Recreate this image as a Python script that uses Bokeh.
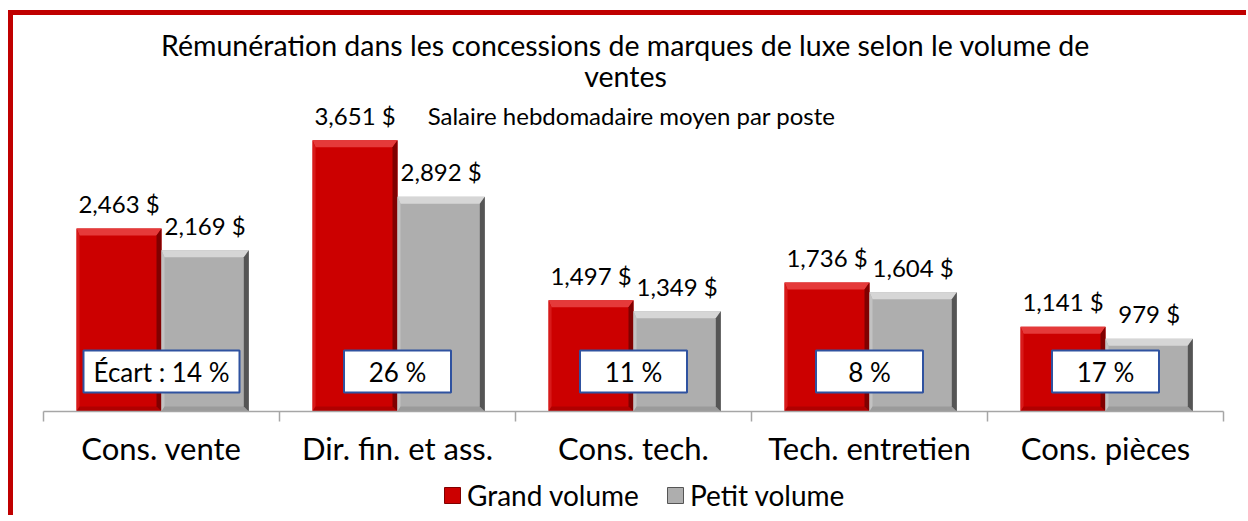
import numpy as np
from bokeh.plotting import figure
from bokeh.layouts import column
from bokeh.models import Range1d, FixedTicker, Legend, LegendItem, ColumnDataSource, Label
from bokeh.embed import file_html
from bokeh.resources import INLINE
from bokeh.core.properties import value

# ---------------- data ----------------
categories = ["Cons. vente", "Dir. fin. et ass.", "Cons. tech.", "Tech. entretien", "Cons. pièces"]
grand_volume = [2463, 3651, 1497, 1736, 1141]
petit_volume = [2169, 2892, 1349, 1604, 979]
ecart_labels = ["Écart : 14 %", "26 %", "11 %", "8 %", "17 %"]
series_names = ["Grand volume", "Petit volume"]
title_lines = ["Rémunération dans les concessions de marques de luxe selon le volume de", "ventes"]
subtitle = "Salaire hebdomadaire moyen par poste"

# ---------------- layout / style ----------------
FONT = "Lato"
RED = ("#CC0000", "#E53A3A", "#800000", "#D81A1A", "#B00000")
GRAY = ("#AEAEAE", "#D6D6D6", "#555555", "#C2C2C2", "#9A9A9A")
W, H = 1233, 460
MB_L, MB_R, MB_T, MB_B = 30, 23, 0, 64
FRAME_H = H - MB_T - MB_B
Y_MAX = 5330.0
PX = FRAME_H / Y_MAX            # pixels per data unit (vertical)
XPX = (W - MB_L - MB_R) / 5.0   # pixels per category

def dy(px):
    return px / PX

def dx(px):
    return px / XPX

p = figure(width=W, height=H, output_backend="svg", toolbar_location=None,
           x_range=Range1d(0, len(categories)), y_range=Range1d(0, Y_MAX),
           y_axis_location=None, min_border_left=MB_L, min_border_right=MB_R,
           min_border_top=MB_T, min_border_bottom=MB_B)
p.outline_line_color = None
p.xgrid.visible = False
p.ygrid.visible = False
p.background_fill_color = "white"
p.border_fill_color = "white"

n = len(categories)
centers = np.arange(n) + 0.5
RED_W, GRAY_W = 0.36, 0.37

def draw_bars(left, right, top, colors):
    base, light_top, dark_right, light_left, bottom_c = colors
    bottom = np.zeros_like(top)
    src = ColumnDataSource(dict(left=left, right=right, top=top, bottom=bottom))
    main = p.quad(left="left", right="right", top="top", bottom="bottom", source=src,
                  fill_color=base, line_color=None)
    ey = dy(7)
    sx, sy = dx(5), dy(5)
    tops_x, tops_y, rs_x, rs_y, ls_x, ls_y, bs_x, bs_y = [], [], [], [], [], [], [], []
    for l, r, t in zip(left, right, top):
        tops_x.append([l, r, r - sx, l + dx(3)]); tops_y.append([t, t, t - ey, t - ey])
        rs_x.append([r, r, r - sx, r - sx]); rs_y.append([t, 0, sy, t - ey])
        ls_x.append([l, l + dx(3), l + dx(3), l]); ls_y.append([t, t - ey, sy, 0])
        bs_x.append([l, r, r - sx, l + dx(3)]); bs_y.append([0, 0, sy, sy])
    p.patches(tops_x, tops_y, fill_color=light_top, line_color=None)
    p.patches(ls_x, ls_y, fill_color=light_left, line_color=None)
    p.patches(bs_x, bs_y, fill_color=bottom_c, line_color=None)
    p.patches(rs_x, rs_y, fill_color=dark_right, line_color=None)
    return main

gv = np.array(grand_volume, dtype=float)
pv = np.array(petit_volume, dtype=float)
draw_bars(centers - RED_W, centers, gv, RED)
draw_bars(centers, centers + GRAY_W, pv, GRAY)

# value labels
fmt = lambda v: f"{v:,.0f} $"
lab_src = ColumnDataSource(dict(
    x=list(centers - RED_W / 2) + list(centers + GRAY_W / 2),
    y=list(gv) + list(pv),
    t=[fmt(v) for v in gv] + [fmt(v) for v in pv]))
p.text(x="x", y="y", text="t", source=lab_src, text_font=value(FONT),
       text_font_size="24px", text_align="center", text_baseline="middle",
       y_offset=-25, text_color="#000000")

# écart boxes
box_w = [dx(156) if len(s) > 6 else dx(107) for s in ecart_labels]
box_src = ColumnDataSource(dict(x=centers, y=[dy(40)] * n, w=box_w, t=ecart_labels))
p.rect(x="x", y="y", width="w", height=42, height_units="screen", source=box_src,
       fill_color="white", line_color="#2F52A0", line_width=2)
p.text(x="x", y="y", text="t", source=box_src, text_font=value(FONT),
       text_font_size="26px", text_align="center", text_baseline="middle",
       text_color="#000000")

# titles
title_y0 = Y_MAX - dy(29)
for i, line in enumerate(title_lines):
    p.add_layout(Label(x=dx(582), y=title_y0 - dy(31) * i, text=line, text_font=FONT,
                       text_font_size="28.5px", text_align="center", text_baseline="middle",
                       text_color="#000000"))
p.add_layout(Label(x=dx(588), y=Y_MAX - dy(100), text=subtitle, text_font=FONT,
                   text_font_size="24px", text_align="center", text_baseline="middle",
                   text_color="#000000"))

# axis
ax = p.xaxis[0]
ax.ticker = FixedTicker(ticks=list(centers), minor_ticks=list(range(n + 1)))
ax.major_label_overrides = {float(c): name for c, name in zip(centers, categories)}
ax.major_tick_out = 0
ax.major_tick_in = 0
ax.minor_tick_out = 10
ax.minor_tick_in = 0
ax.minor_tick_line_color = "#A6A6A6"
ax.minor_tick_line_width = 1.5
ax.axis_line_color = "#A6A6A6"
ax.axis_line_width = 1.5
ax.major_label_standoff = 7
ax.major_label_text_font = FONT
ax.major_label_text_font_size = "31px"
ax.major_label_text_color = "#000000"

# legend strip
LH = 40
pl = figure(width=W, height=LH, output_backend="svg", toolbar_location=None,
            x_range=Range1d(0, 1), y_range=Range1d(0, 1),
            x_axis_location=None, y_axis_location=None, min_border=0)
pl.outline_line_color = None
pl.xgrid.visible = False
pl.ygrid.visible = False
# legend swatches (their quads lie outside the strip's visible range)
r_red = pl.quad(left=[5], right=[6], top=[5], bottom=[4], fill_color=RED[0], line_color=RED[2])
r_gray = pl.quad(left=[5], right=[6], top=[5], bottom=[4], fill_color=GRAY[0], line_color=GRAY[2])
legend = Legend(items=[LegendItem(label=series_names[0], renderers=[r_red]),
                       LegendItem(label=series_names[1], renderers=[r_gray])],
                orientation="horizontal", location=(399, 3),
                padding=0, margin=0, spacing=26, label_standoff=5,
                glyph_width=20, glyph_height=20,
                label_text_font=FONT, label_text_font_size="28px",
                label_text_color="#000000",
                border_line_color=None, background_fill_alpha=0)
pl.add_layout(legend, "center")

layout = column(p, pl, spacing=0)
layout.styles = {"border-top": "5px solid #C00000", "border-left": "5px solid #C00000",
                 "margin-top": "10px", "margin-left": "8px"}

open("out.html", "w").write(file_html(layout, INLINE))
